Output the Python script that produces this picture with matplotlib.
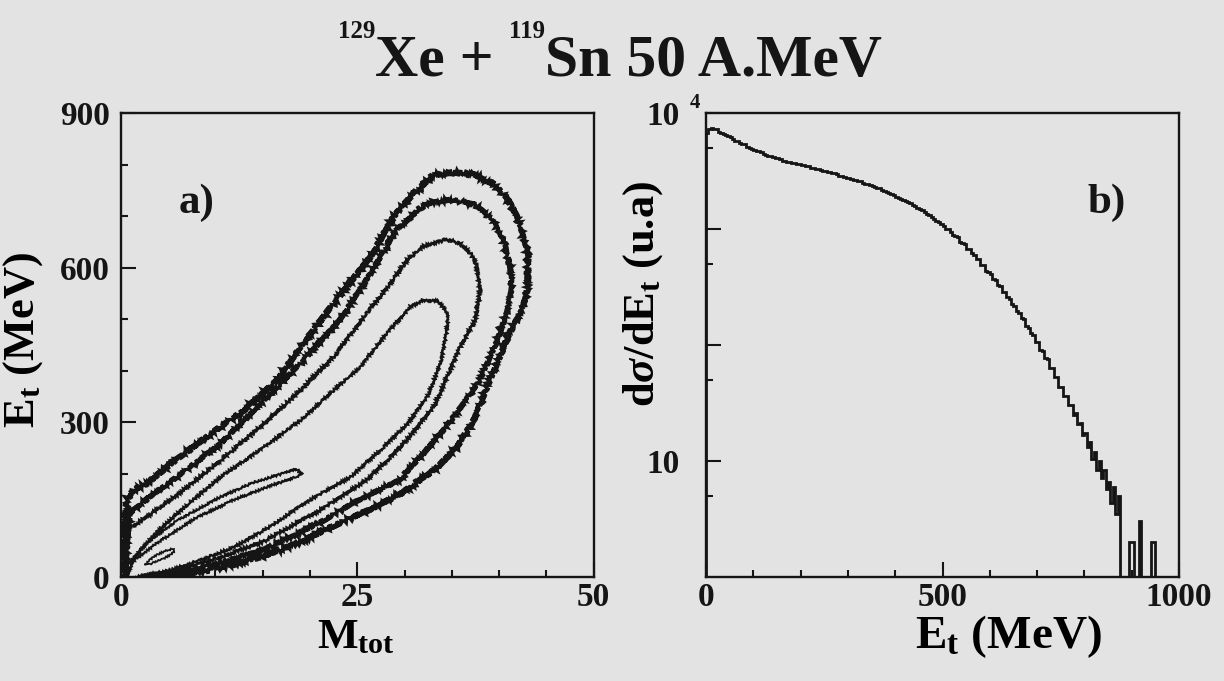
import numpy as np
import matplotlib
matplotlib.use("Agg")
import matplotlib.pyplot as plt
from matplotlib.ticker import FixedLocator, FixedFormatter, MultipleLocator, NullFormatter

# ---------------- data ----------------
# Panel a) contour lines of the E_t vs M_tot distribution (M_tot, E_t in MeV)
c1_m = [3.2, 6, 10, 15, 19, 22, 26, 29.5, 33.1, 35.5, 37.3, 39.5, 41, 42.5, 43, 43.1, 42.6, 41.9, 41,
        39.5, 37.5, 35, 33, 31, 28.8, 26.4, 22.5, 19, 16.5, 13, 10.5, 6, 3, 1.3, 0.6, 0.4, 0.5]
c1_e = [0, 4, 16, 40, 68, 95, 128, 160, 207, 250, 304, 400, 470, 520, 560, 620, 660, 698, 730,
        762, 780, 785, 778, 745, 698, 621, 530, 446, 381, 323, 291, 230, 185, 168, 150, 70, 0]

c2_m = [2.5, 6, 10, 15, 21, 25, 29.5, 34.1, 38, 39.8, 40.8, 41.3, 41.2, 40.6, 39.5, 37.5, 35, 33,
        31.7, 29, 26.4, 23, 19, 15, 10.5, 6, 3, 1, 0.6, 0.5]
c2_e = [0, 8, 25, 52, 105, 148, 188, 284, 381, 459, 511, 556, 600, 645, 690, 722, 732, 728,
        716, 670, 588, 495, 414, 340, 258, 195, 155, 125, 60, 0]

c3_m = [2.0, 6, 10, 15, 21, 26, 29.6, 33.1, 35.9, 37.5, 38, 37.7, 37, 35.8, 34.5, 32, 30.3, 28.3,
        26, 22.5, 19, 15, 10.5, 6, 3, 1, 0.6, 0.5]
c3_e = [0, 14, 35, 68, 129, 188, 252, 330, 446, 500, 556, 601, 627, 648, 655, 642, 615, 565,
        511, 427, 362, 295, 225, 160, 120, 95, 50, 0]

c4_m = [1.6, 5, 8, 12, 16, 20, 24.3, 27.8, 30.3, 32.4, 33.8, 34.5, 34.6, 33.6, 32, 30.6, 28.1,
        25.3, 22.5, 19, 15, 11, 7, 4, 2, 1, 0.7]
c4_e = [0, 12, 30, 58, 100, 150, 194, 252, 297, 349, 414, 478, 510, 535, 537, 524, 472,
        407, 362, 304, 250, 200, 140, 90, 50, 20, 0]

c5_m = [1.0, 3, 6, 10.5, 14, 17, 18.5, 19.2, 18.4, 16, 12, 8, 4, 2, 1.0]
c5_e = [30, 70, 110, 155, 183, 200, 210, 200, 193, 178, 150, 115, 68, 40, 30]

c6_m = [2.6, 3.5, 4.6, 5.5, 5.7, 5.2, 4.2, 3.2, 2.6]
c6_e = [25, 40, 50, 55, 50, 42, 33, 26, 25]

# Panel b) dsigma/dEt spectrum: log10 values in 5 MeV bins starting at 0 MeV (nan = empty bin)
bin_width_b = 5.0
log10_dsig = [
    3.83, 3.86, 3.87, 3.86, 3.86, 3.84, 3.83, 3.82, 3.81, 3.80,   # 0-45
    3.79, 3.78, 3.76, 3.76, 3.74, 3.73, 3.73, 3.71, 3.70, 3.69,   # 50-95
    3.68, 3.67, 3.67, 3.66, 3.65, 3.64, 3.63, 3.63, 3.62, 3.61,   # 100-145
    3.61, 3.60, 3.59, 3.59, 3.58, 3.58, 3.57, 3.57, 3.56, 3.56,   # 150-195
    3.55, 3.55, 3.54, 3.54, 3.53, 3.53, 3.52, 3.52, 3.51, 3.50,   # 200-245
    3.50, 3.49, 3.49, 3.48, 3.48, 3.47, 3.46, 3.46, 3.45, 3.44,   # 250-295
    3.44, 3.43, 3.42, 3.42, 3.41, 3.41, 3.40, 3.39, 3.39, 3.38,   # 300-345
    3.37, 3.36, 3.35, 3.35, 3.34, 3.33, 3.32, 3.31, 3.30, 3.29,   # 350-395
    3.28, 3.27, 3.26, 3.25, 3.24, 3.23, 3.22, 3.21, 3.20, 3.18,   # 400-445
    3.17, 3.16, 3.15, 3.13, 3.12, 3.10, 3.09, 3.07, 3.06, 3.04,   # 450-495
    3.03, 3.00, 3.00, 2.97, 2.95, 2.94, 2.93, 2.89, 2.88, 2.87,   # 500-545
    2.83, 2.83, 2.79, 2.78, 2.74, 2.74, 2.69, 2.69, 2.64, 2.63,   # 550-595
    2.61, 2.57, 2.56, 2.52, 2.51, 2.46, 2.46, 2.41, 2.40, 2.35,   # 600-645
    2.34, 2.29, 2.28, 2.23, 2.22, 2.16, 2.15, 2.10, 2.09, 2.03,   # 650-695
    2.03, 1.96, 1.95, 1.89, 1.88, 1.80, 1.80, 1.72, 1.72, 1.64,   # 700-745
    1.64, 1.56, 1.56, 1.48, 1.48, 1.40, 1.41, 1.32, 1.33, 1.22,   # 750-795
    1.24, 1.12, 1.16, 1.02, 1.08, 0.92, 1.00, 0.85, 0.92, 0.76,   # 800-845
    0.82, 0.64, 0.78, 0.54, 0.70, np.nan, np.nan, np.nan, np.nan, 0.30,   # 850-895
    0.30, np.nan, np.nan, 0.48, np.nan, np.nan, np.nan, np.nan, 0.30, 0.30,  # 900-945
]

xticks_a = [0, 25, 50]
yticks_a = [0, 300, 600, 900]
xticks_b = [0, 500, 1000]
yticks_b = [10, 100, 1000, 10000]
yticklabels_b = ["10", "", "", "10"]

title_parts = [("129", True), ("Xe +", False), (" ", False), ("119", True), ("Sn 50 A.MeV", False)]

# ---------------- style ----------------
BG = "#e3e3e3"
INK = "#151515"
plt.rcParams.update({
    "font.family": ["Liberation Serif", "DejaVu Serif"],
    "font.weight": "bold",
    "mathtext.fontset": "custom",
    "mathtext.rm": "Liberation Serif:bold",
    "mathtext.it": "Liberation Serif:italic:bold",
    "mathtext.bf": "Liberation Serif:bold",
    "text.color": INK,
})

W, H = 1224, 681
fig = plt.figure(figsize=(W / 100, H / 100), dpi=100)
fig.patch.set_facecolor(BG)

ax_a = fig.add_axes([120.7 / W, (H - 577) / H, 473 / W, 464 / H])
ax_b = fig.add_axes([706 / W, (H - 577) / H, 473 / W, 464 / H])


def style(ax):
    ax.set_facecolor(BG)
    for s in ax.spines.values():
        s.set_color(INK)
        s.set_linewidth(1.7)
    ax.tick_params(which="both", direction="in", top=False, right=False,
                   color=INK, width=1.5, labelsize=24, labelcolor=INK)
    ax.tick_params(which="major", length=11)
    ax.tick_params(which="minor", length=5)
    ax.tick_params(axis="x", which="both", pad=3.5)


# ---------------- panel a ----------------
style(ax_a)
contours = [(c1_m, c1_e, 2.3, 3.2), (c2_m, c2_e, 2.2, 2.8), (c3_m, c3_e, 1.8, 1.5),
            (c4_m, c4_e, 1.7, 1.2), (c5_m, c5_e, 1.5, 1.0), (c6_m, c6_e, 1.3, 0.8)]
for m, e, lw, sk in contours:
    ln, = ax_a.plot(m, e, color=INK, lw=lw, solid_joinstyle="miter")
    ln.set_sketch_params(scale=sk, length=3.0, randomness=2.0)

ax_a.set_xlim(0, 50)
ax_a.set_ylim(0, 900)
ax_a.xaxis.set_major_locator(FixedLocator(xticks_a))
ax_a.xaxis.set_minor_locator(MultipleLocator(5))
ax_a.yaxis.set_major_locator(FixedLocator(yticks_a))
ax_a.yaxis.set_minor_locator(MultipleLocator(100))
ax_a.tick_params(axis="y", which="both", pad=8)

ax_a.set_xlabel(r"M$_\mathregular{tot}$", fontsize=31, fontweight="bold", va="baseline")
ax_a.xaxis.set_label_coords(0.497, -0.153)
ax_a.set_ylabel(r"E$_\mathregular{t}$ (MeV)", fontsize=32, fontweight="bold", va="baseline")
ax_a.yaxis.set_label_coords(-0.185, 0.51)
ax_a.text(0.160, 0.784, "a)", transform=ax_a.transAxes, fontsize=31, fontweight="bold",
          ha="center", va="baseline")

# ---------------- panel b ----------------
style(ax_b)
vals = np.array(log10_dsig, dtype=float)
dsig = np.where(np.isnan(vals), 0.0, np.power(10.0, np.nan_to_num(vals)))
edges = np.arange(len(dsig) + 1) * bin_width_b
ax_b.set_yscale("log")
ax_b.stairs(dsig, edges, baseline=1e-3, color=INK, lw=2.0)

ax_b.set_xlim(0, 1000)
ax_b.set_ylim(1, 1e4)
ax_b.xaxis.set_major_locator(FixedLocator(xticks_b))
ax_b.xaxis.set_minor_locator(MultipleLocator(100))
ax_b.yaxis.set_major_locator(FixedLocator(yticks_b))
ax_b.yaxis.set_major_formatter(FixedFormatter(yticklabels_b))
ax_b.yaxis.set_minor_locator(FixedLocator([5, 50, 500, 5000]))
ax_b.yaxis.set_minor_formatter(NullFormatter())
ax_b.tick_params(axis="y", which="both", pad=19)
ax_b.text(-0.023, 1.022, "4", transform=ax_b.transAxes, fontsize=15, fontweight="bold",
          ha="center", va="center")

ax_b.set_xlabel(r"E$_\mathregular{t}$ (MeV)", fontsize=34, fontweight="bold", va="baseline")
ax_b.xaxis.set_label_coords(0.640, -0.153)
ax_b.set_ylabel(r"d$\sigma$/dE$_\mathregular{t}$ (u.a)", fontsize=32, fontweight="bold", va="baseline")
ax_b.yaxis.set_label_coords(-0.110, 0.61)
ax_b.text(0.848, 0.784, "b)", transform=ax_b.transAxes, fontsize=31, fontweight="bold",
          ha="center", va="baseline")

# ---------------- title (with superscript mass numbers) ----------------
fig.canvas.draw()
rend = fig.canvas.get_renderer()
big, small = 43, 18
base_y = (H - 76) / H
sup_y = (H - 38) / H


def text_width(s, size):
    t = fig.text(0, 0, s, fontsize=size, fontweight="bold")
    w = t.get_window_extent(rend).width
    t.remove()
    return w


space_w = text_width("a a", big) - text_width("aa", big)
widths = []
for s, sup in title_parts:
    if s == " ":
        widths.append(space_w)
    else:
        widths.append(text_width(s, small if sup else big))
x = 0.498 * W - sum(widths) / 2
for (s, sup), w in zip(title_parts, widths):
    if s != " ":
        fig.text(x / W, sup_y if sup else base_y, s, fontsize=small if sup else big,
                 fontweight="bold", ha="left", va="baseline")
    x += w

fig.savefig("out.png", dpi=100, facecolor=BG)
